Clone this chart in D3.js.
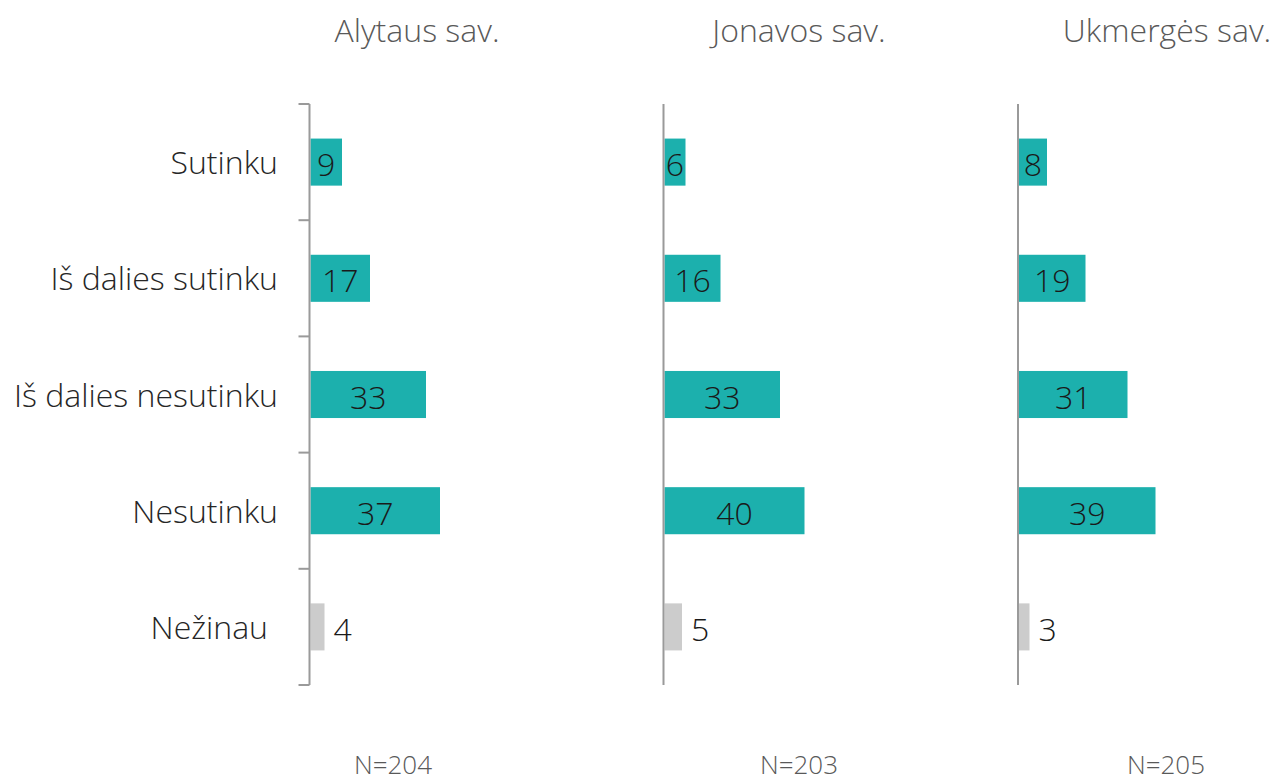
<!DOCTYPE html>
<html>
<head>
<meta charset="utf-8">
<script src="https://cdn.jsdelivr.net/npm/d3@7"></script>
<style>
  body { margin: 0; background: #fff; }
  svg { display: block; font-family: "Open Sans", sans-serif; font-weight: 300; }
</style>
</head>
<body>
<script>
const width = 1276;
const height = 782;

// data
const categories = ['Sutinku', 'Iš dalies sutinku', 'Iš dalies nesutinku', 'Nesutinku', 'Nežinau'];
const regions = ['Alytaus sav.', 'Jonavos sav.', 'Ukmergės sav.'];
const alytaus = [9, 17, 33, 37, 4];
const jonavos = [6, 16, 33, 40, 5];
const ukmerges = [8, 19, 31, 39, 3];
const sampleSizes = ['N=204', 'N=203', 'N=205'];

// layout
const axisX = [309.5, 663.5, 1018];
const titleX = [417, 799, 1167];
const nX = [393, 799, 1166];
const teal = '#1cb0ad';
const grey = '#cccccc';

const svg = d3.select('body').append('svg')
  .attr('width', width)
  .attr('height', height);

const y = d3.scaleBand()
  .domain(categories)
  .range([104, 685])
  .paddingInner(0.595)
  .paddingOuter(0.2975);

const x = d3.scaleLinear()
  .domain([0, 40])
  .range([0, 140]);

const series = [alytaus, jonavos, ukmerges];

series.forEach((vals, k) => {
  const g = svg.append('g')
    .attr('transform', `translate(${axisX[k]},0)`);

  const rows = categories.map((c, i) => ({cat: c, value: vals[i], last: i === categories.length - 1}));

  g.selectAll('rect')
    .data(rows)
    .join('rect')
      .attr('x', 1)
      .attr('y', d => y(d.cat))
      .attr('width', d => x(d.value))
      .attr('height', y.bandwidth())
      .attr('fill', d => d.last ? grey : teal);

  g.selectAll('text.val')
    .data(rows)
    .join('text')
      .attr('class', 'val')
      .attr('x', d => d.last ? x(d.value) + 10 : 1 + x(d.value) / 2)
      .attr('y', d => y(d.cat) + y.bandwidth() / 2 + 14)
      .attr('text-anchor', d => d.last ? 'start' : 'middle')
      .attr('fill', '#1a1a1a')
      .style('font-size', '32px')
      .text(d => d.value);

  // axis line
  g.append('line')
    .attr('x1', 0).attr('x2', 0)
    .attr('y1', 104).attr('y2', 685)
    .attr('stroke', '#9a9a9a')
    .attr('stroke-width', 2);

  if (k === 0) {
    const edges = categories.map(c => y(c) - y.step() * y.paddingInner() / 2)
      .concat([685]);
    g.selectAll('line.tick')
      .data(edges)
      .join('line')
        .attr('class', 'tick')
        .attr('x1', -11).attr('x2', 0)
        .attr('y1', d => d).attr('y2', d => d)
        .attr('stroke', '#9a9a9a')
        .attr('stroke-width', 2);

    svg.selectAll('text.cat')
      .data(categories)
      .join('text')
        .attr('class', 'cat')
        .attr('x', (d, i) => i === categories.length - 1 ? 268 : 278)
        .attr('y', d => y(d) + y.bandwidth() / 2 + 12)
        .attr('text-anchor', 'end')
        .attr('fill', '#262626')
        .style('font-size', '32px')
        .text(d => d);
  }

  svg.append('text')
    .attr('x', titleX[k])
    .attr('y', 42)
    .attr('text-anchor', 'middle')
    .attr('fill', '#595959')
    .style('font-size', '32px')
    .text(regions[k]);

  svg.append('text')
    .attr('x', nX[k])
    .attr('y', 774)
    .attr('text-anchor', 'middle')
    .attr('fill', '#595959')
    .style('font-size', '26px')
    .text(sampleSizes[k]);
});
</script>
</body>
</html>
